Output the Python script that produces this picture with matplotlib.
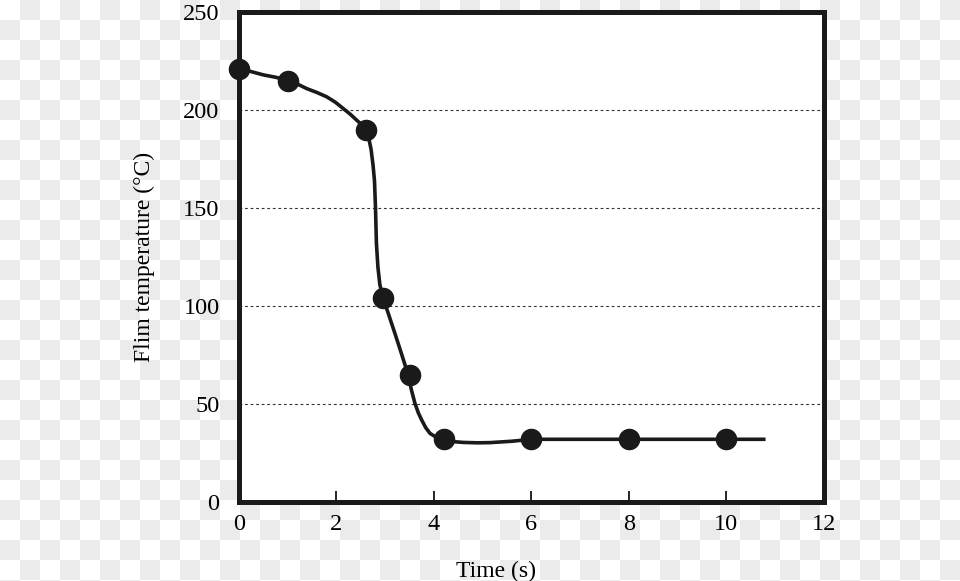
import numpy as np
import matplotlib.pyplot as plt

# measured points
time = [0, 1, 2.6, 2.95, 3.5, 4.2, 6, 8, 10]
temp = [221, 215, 190, 104, 65, 32, 32, 32, 32]

# smooth curve
curve_t = [0, 0.23, 0.5, 0.75, 0.98, 1.2, 1.39, 1.6, 1.8, 1.98, 2.14, 2.28, 2.41, 2.52,
           2.6, 2.66, 2.71, 2.75, 2.78, 2.80, 2.82, 2.85, 2.89, 2.95, 3.08, 3.2, 3.33,
           3.47, 3.54, 3.61, 3.68, 3.75, 3.83, 3.92, 4.05, 4.19, 4.4, 4.6, 4.9, 5.15,
           5.6, 6, 8, 10, 10.77]
curve_y = [221, 219.8, 218, 216.8, 215.3, 213.3, 211, 209, 206.8, 204, 200.8, 198, 195,
           192.5, 190, 186, 180, 172, 164, 150.7, 132, 120, 111, 104.6, 95, 86, 76,
           65, 57, 50.4, 45.5, 41.8, 38, 35, 33, 31.6, 30.8, 30.4, 30.2, 30.3,
           31, 32, 32, 32, 32]

xticks = [0, 2, 4, 6, 8, 10, 12]
yticks = [0, 50, 100, 150, 200, 250]

plt.rcParams['font.family'] = ['Liberation Serif', 'DejaVu Serif']

fig = plt.figure(figsize=(9.6, 5.81), dpi=100)

# transparent-look checkerboard behind everything
bg = fig.add_axes([0, 0, 1, 1], zorder=-10)
rows, cols = 30, 48
checker = (np.add.outer(np.arange(rows), np.arange(cols)) % 2).astype(float)
bg.imshow(checker, cmap='gray_r', vmin=0, vmax=12.5, extent=(0, 960, 600, 0),
          interpolation='nearest', aspect='auto')
bg.set_xlim(0, 960)
bg.set_ylim(581, 0)
bg.axis('off')

ax = fig.add_axes([0.249, 0.136, 0.609, 0.843])
ax.set_facecolor('white')

for y in yticks[1:-1]:
    ax.axhline(y, color='#333333', lw=0.8, ls=(0, (2.5, 2.5)), zorder=1)

ax.plot(curve_t, curve_y, color='#1a1a1a', lw=2.6, zorder=2,
        solid_joinstyle='round')
ax.plot(time, temp, 'o', color='#1a1a1a', ms=14.5, zorder=3, clip_on=False)

ax.set_xlim(0, 12)
ax.set_ylim(0, 250)
ax.set_xticks(xticks)
ax.set_yticks(yticks)
ax.tick_params(axis='x', direction='in', length=8, width=1.2, labelsize=17.5, pad=9)
ax.tick_params(axis='y', length=0, labelsize=17.5, pad=14)
for s in ax.spines.values():
    s.set_linewidth(3.6)
    s.set_color('#1a1a1a')

ax.set_xlabel('Time (s)', fontsize=17)
ax.xaxis.set_label_coords(0.44, -0.12)
ax.set_ylabel('Flim temperature (°C)', fontsize=17)
ax.yaxis.set_label_coords(-0.144, 0.5)

fig.savefig('out.png', dpi=100)
